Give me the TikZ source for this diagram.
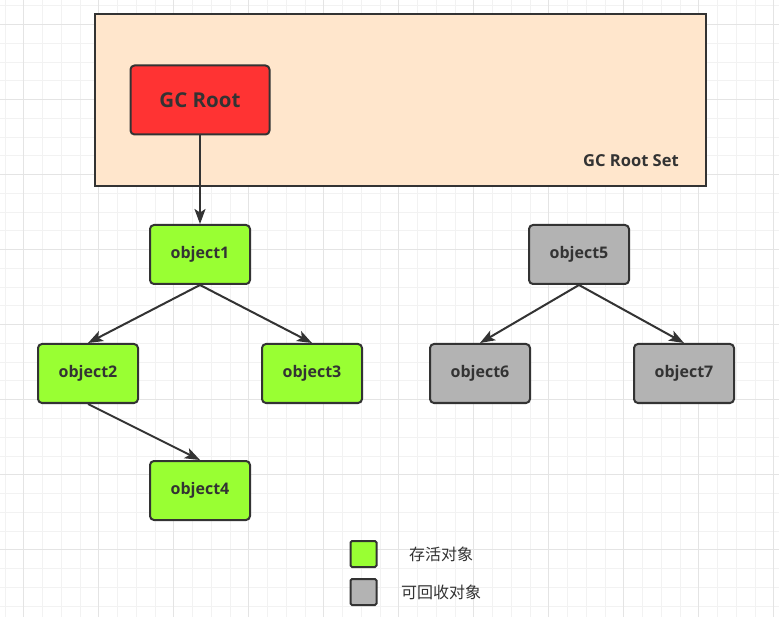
\documentclass[tikz,border=0pt]{standalone}
\usepackage{fontspec}
\setmainfont{Open Sans}
\newfontfamily\cjk{Noto Sans CJK SC}
\usetikzlibrary{arrows.meta}
\definecolor{inkgray}{HTML}{333333}
\definecolor{setfill}{HTML}{FFE6CC}
\definecolor{rootred}{HTML}{FF3333}
\definecolor{livegreen}{HTML}{99FF33}
\definecolor{deadgray}{HTML}{B3B3B3}
\definecolor{gridminor}{HTML}{F2F2F2}
\definecolor{gridmajor}{HTML}{E4E4E4}
\begin{document}
\begin{tikzpicture}[x=1pt,y=-1pt,
  obj/.style={draw=inkgray, line width=2pt, rounded corners=4pt, text=inkgray,
    font=\bfseries\fontsize{16}{18}\selectfont, minimum width=100pt, minimum height=59pt},
  live/.style={obj, fill=livegreen},
  dead/.style={obj, fill=deadgray},
  legendbox/.style={draw=inkgray, line width=2pt, rounded corners=1.5pt,
    minimum size=26pt, inner sep=0pt},
  legendtext/.style={text=inkgray, font=\cjk\fontsize{16}{18}\selectfont},
  link/.style={draw=inkgray, line width=2pt, -{Stealth[length=15pt,width=11pt,inset=3.5pt]}}]
\useasboundingbox (0,0) rectangle (779,617);
\fill[white] (0,0) rectangle (779,617);
%% grid
\foreach \k in {0,...,41}
  \draw[gridminor, line width=1pt] (5+18.75*\k,0) -- (5+18.75*\k,617);
\foreach \k in {0,...,32}
  \draw[gridminor, line width=1pt] (0,6+18.75*\k) -- (779,6+18.75*\k);
\foreach \k in {1,5,...,41}
  \draw[gridmajor, line width=1pt] (5+18.75*\k,0) -- (5+18.75*\k,617);
\foreach \k in {1,5,...,29}
  \draw[gridmajor, line width=1pt] (0,6+18.75*\k) -- (779,6+18.75*\k);
%% root set
\draw[fill=setfill, draw=inkgray, line width=2.5pt] (95,14) rectangle (706,186);
\node[text=inkgray, font=\bfseries\fontsize{16.5}{18}\selectfont] (setlabel) at (631,161) {GC Root Set};
\node[obj, fill=rootred, font=\bfseries\fontsize{20.5}{22}\selectfont,
  minimum width=139pt, minimum height=69pt] (root) at (200,100) {GC Root};
%% objects
\node[live] (o1) at (200,254.5) {object1};
\node[live] (o2) at (88,373.5) {object2};
\node[live] (o3) at (312,373.5) {object3};
\node[live] (o4) at (200,490.5) {object4};
\node[dead] (o5) at (579,254.5) {object5};
\node[dead] (o6) at (480,373.5) {object6};
\node[dead] (o7) at (684,373.5) {object7};
%% references
\draw[link] (root.south) -- (o1.north);
\draw[link] (o1.south) -- (o2.north);
\draw[link] (o1.south) -- (o3.north);
\draw[link] (o2.south) -- (o4.north);
\draw[link] (o5.south) -- (o6.north);
\draw[link] (o5.south) -- (o7.north);
%% legend
\node[legendbox, fill=livegreen] (keylive) at (363.5,554) {};
\node[legendbox, fill=deadgray] (keydead) at (363.5,592) {};
\node[legendtext] (txtlive) at (441,554) {存活对象};
\node[legendtext] (txtdead) at (441,592) {可回收对象};
\end{tikzpicture}
\end{document}
